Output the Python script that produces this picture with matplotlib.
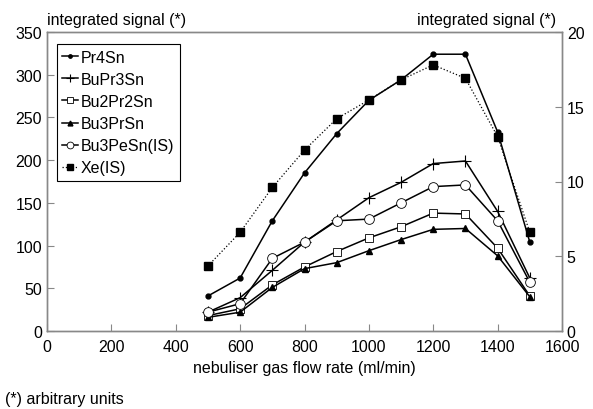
import matplotlib
matplotlib.use("Agg")
import matplotlib.pyplot as plt

plt.rcParams["font.family"] = ["Liberation Sans", "DejaVu Sans"]
plt.rcParams["font.size"] = 11

flow = [500, 600, 700, 800, 900, 1000, 1100, 1200, 1300, 1400, 1500]

pr4sn = [41, 62, 129, 185, 231, 270, 294, 324, 324, 233, 104]
bupr3sn = [22, 39, 71, 104, 130, 156, 174, 196, 199, 140, 62]
bu2pr2sn = [18, 26, 54, 75, 93, 109, 122, 138, 137, 97, 41]
bu3prsn = [16, 22, 51, 73, 80, 94, 107, 119, 120, 88, 40]
bu3pesn_is = [22, 32, 85, 104, 129, 131, 150, 169, 171, 129, 57]
xe_is = [4.35, 6.6, 9.6, 12.1, 14.2, 15.45, 16.8, 17.8, 16.9, 13.0, 6.6]

fig = plt.figure(figsize=(5.93, 4.10), dpi=100)
ax = fig.add_axes([47 / 593, 1 - 332 / 410, (562 - 47) / 593, (332 - 33) / 410])
ax2 = ax.twinx()

lw = 1.1
h1, = ax.plot(flow, pr4sn, "-", color="black", lw=lw, marker="o", ms=3.5, label="Pr4Sn")
h2, = ax.plot(flow, bupr3sn, "-", color="black", lw=lw, marker="+", ms=8, mew=0.8, label="BuPr3Sn")
h3, = ax.plot(flow, bu2pr2sn, "-", color="black", lw=lw, marker="s", ms=5.5, mfc="white", mew=0.6, label="Bu2Pr2Sn")
h4, = ax.plot(flow, bu3prsn, "-", color="black", lw=lw, marker="^", ms=5, label="Bu3PrSn")
h5, = ax.plot(flow, bu3pesn_is, "-", color="black", lw=lw, marker="o", ms=7, mfc="white", mew=0.6, label="Bu3PeSn(IS)")
h6, = ax2.plot(flow, xe_is, ":", color="black", lw=0.9, marker="s", ms=6, label="Xe(IS)")

ax.set_xlim(0, 1600)
ax.set_ylim(0, 350)
ax2.set_ylim(0, 20)
ax.set_xticks(range(0, 1601, 200))
ax.set_yticks(range(0, 351, 50))
ax2.set_yticks(range(0, 21, 5))

for a in (ax, ax2):
    for s in a.spines.values():
        s.set_color("#888888")
        s.set_linewidth(1.0)
    a.tick_params(direction="in", length=5, color="#888888", labelsize=11.5)
ax.tick_params(axis="x", pad=6)

ax.set_xlabel("nebuliser gas flow rate (ml/min)", fontsize=11.5, labelpad=4)
fig.text(47 / 593, 1 - 20 / 410, "integrated signal (*)", fontsize=11.5, ha="left", va="center")
fig.text(556 / 593, 1 - 20 / 410, "integrated signal (*)", fontsize=11.5, ha="right", va="center")
fig.text(5 / 593, 1 - 400 / 410, "(*) arbitrary units", fontsize=11.5, ha="left", va="center")

leg = ax2.legend(handles=[h1, h2, h3, h4, h5, h6], loc="upper left",
                 bbox_to_anchor=(0.019, 0.96), borderaxespad=0, fontsize=11.5,
                 handlelength=1.0, handletextpad=0.15, borderpad=0.35,
                 labelspacing=0.45, markerscale=0.7, fancybox=False,
                 edgecolor="black", framealpha=1)
leg.get_frame().set_linewidth(0.8)

fig.savefig("out.png", dpi=100)
